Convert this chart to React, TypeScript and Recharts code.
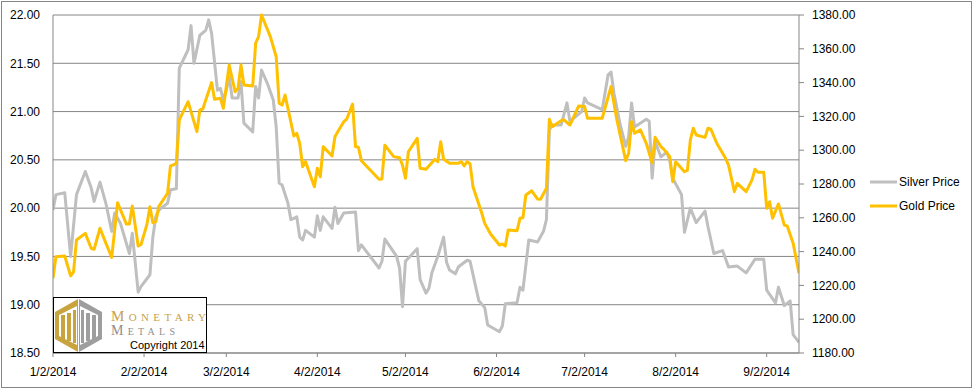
import { LineChart, Line, XAxis, YAxis, CartesianGrid } from "recharts";

// x values are day-of-year in 2014 (Jan 2 = 2)
const tickLabels = ["1/2/2014", "2/2/2014", "3/2/2014", "4/2/2014", "5/2/2014", "6/2/2014", "7/2/2014", "8/2/2014", "9/2/2014"];
const silverTicks = [18.5, 19, 19.5, 20, 20.5, 21, 21.5, 22];
const goldTicks = [1180, 1200, 1220, 1240, 1260, 1280, 1300, 1320, 1340, 1360, 1380];

const silverDays = [
  2, 3, 6, 8, 10, 13, 15, 16, 18, 20, 22, 23, 25, 28, 29, 31, 32, 35, 36, 37, 38, 41, 42, 44,
  45, 48, 49, 50, 52, 54, 55, 56, 58, 59, 60, 61, 62, 63, 65, 66, 67, 70, 71, 72, 73, 75, 77, 78,
  79, 80, 82, 83, 85, 86, 87, 88, 91, 92, 93, 94, 97, 98, 99, 101, 105, 106, 107, 113, 114, 115,
  119, 120, 121, 122, 126, 127, 129, 130, 131, 133, 135, 136, 137, 139, 140, 143, 144, 147, 149,
  150, 154, 155, 156, 160, 161, 162, 164, 167, 169, 170, 171, 172, 175, 177, 178, 182, 183, 184,
  189, 191, 192, 193, 195, 197, 198, 199, 200, 204, 205, 206, 207, 209, 211, 212, 213, 216, 217,
  219, 221, 224, 225, 227, 230, 232, 235, 238, 241, 244, 245, 248, 249, 251, 253, 254, 256,
];
const silverPrices = [
  19.98, 20.14, 20.16, 19.5, 20.14, 20.38, 20.21, 20.07, 20.27, 20.05, 19.76, 19.95, 19.84, 19.53,
  19.74, 19.13, 19.19, 19.31, 19.7, 19.91, 19.98, 20.05, 20.19, 20.2,
  21.45, 21.64, 21.89, 21.5, 21.79, 21.84, 21.95, 21.81, 21.22, 21.24, 21.12, 21.22, 21.36, 21.14,
  21.14, 21.31, 20.88, 20.79, 21.26, 21.14, 21.43, 21.29, 21.12, 20.84,
  20.26, 20.24, 20.05, 19.88, 19.91, 19.7, 19.67, 19.77, 19.7, 19.92, 19.77, 19.91, 19.79, 20.01,
  19.84, 19.95, 19.96, 19.56, 19.62, 19.38, 19.45, 19.68,
  19.5, 19.38, 18.98, 19.45, 19.58, 19.26, 19.12, 19.17, 19.33, 19.5, 19.7, 19.44, 19.36, 19.32,
  19.39, 19.46, 19.45, 19.04, 18.97,
  18.79, 18.72, 18.78, 19.01, 19.02, 19.18, 19.15, 19.67, 19.65, 19.76, 19.88, 20.81, 20.86, 20.86,
  21.09, 20.9, 21.0, 21.14, 21.09,
  21.02, 21.38, 21.41, 21.19, 20.88, 20.64, 20.74, 21.09, 20.84, 20.92, 20.9, 20.31, 20.69, 20.53,
  20.58, 20.49, 20.31, 20.14, 19.75,
  20.0, 19.85, 19.97, 19.81, 19.53, 19.56, 19.39, 19.4, 19.33, 19.47, 19.47, 19.15, 19.02, 19.18,
  18.99, 19.04, 18.69, 18.61,
];

const goldDays = [
  2, 3, 6, 8, 9, 10, 13, 15, 16, 18, 20, 22, 24, 27, 28, 29, 31, 32, 34, 35, 36, 37, 38, 41, 42,
  43, 44, 45, 48, 51, 52, 53, 56, 57, 59, 60, 62, 64, 65, 66, 67, 70, 71, 72, 73, 76, 78, 79, 80,
  81, 84, 85, 86, 87, 88, 91, 92, 93, 94, 97, 98, 99, 101, 102, 104, 105, 106, 107, 113, 114, 115,
  118, 120, 121, 122, 123, 126, 127, 129, 132, 133, 134, 135, 137, 140, 141, 142, 143, 144, 145,
  148, 149, 151, 154, 155, 156, 157, 160, 161, 162, 163, 165, 167, 168, 170, 171, 172, 175, 176,
  178, 181, 183, 184, 189, 192, 194, 197, 198, 199, 200, 202, 204, 206, 207, 209, 210, 212, 213,
  214, 217, 218, 219, 220, 221, 224, 225, 226, 228, 231, 232, 234, 235, 238, 240, 241, 242, 244,
  245, 246, 247, 249, 251, 252, 254, 256,
];
const goldPrices = [
  1224.2, 1237, 1237.4, 1225.6, 1228, 1246.9, 1250.8, 1242, 1241.4, 1253.8, 1245, 1236.6, 1268.9,
  1256.3, 1256.3, 1267, 1243.3, 1244.3, 1256.3, 1266.6, 1257.1, 1257.7, 1266.6, 1274.5, 1290.7,
  1291.3, 1292.3, 1317.9, 1328.7, 1311, 1323.8, 1324.4, 1340, 1330.1, 1330.7, 1324.8, 1350.4,
  1334.6, 1336.6, 1350.4, 1338.6, 1338, 1363.3, 1367.2, 1380, 1367.2, 1355.3, 1327.8, 1326.7,
  1332.7, 1308.4, 1310, 1304, 1290.2, 1293.2, 1278.4, 1289.3, 1284.3, 1302.1, 1296.6, 1308, 1311,
  1316.9, 1318.3, 1327.3, 1302.1, 1301.7, 1293.8, 1282.8, 1283, 1303,
  1296.2, 1295.5, 1291.2, 1283.4, 1299.1, 1307, 1289.3, 1288.7, 1294.6, 1293.2, 1305, 1294.6,
  1292.3, 1292.3, 1293.2, 1290.7, 1293.2, 1292, 1278.4,
  1262.7, 1256.7, 1250.4, 1243.9, 1244.5, 1243.3, 1252.8, 1252.4, 1259.7, 1260, 1273.5, 1276,
  1271.1, 1271, 1277.5, 1318.3, 1313.9, 1317.5, 1318,
  1314.9, 1326.2, 1325.8, 1318.9, 1318.9, 1337.6, 1317.9, 1293.8, 1298.2, 1316.9, 1310, 1312,
  1304.1, 1292.6, 1307.6, 1302.1, 1300.5, 1296.2, 1281.4,
  1293.2, 1287.3, 1288, 1306, 1313, 1309, 1307.6, 1313, 1312.4, 1304.1, 1295.2, 1291.2, 1275.5,
  1280.4, 1275.5, 1282.4, 1288.7, 1287, 1286.9,
  1265.6, 1269.5, 1259.7, 1268.2, 1255.7, 1255.2, 1245, 1227.2,
];

const monthStart = [0, 31, 59, 90, 120, 151, 181, 212, 243, 273, 304, 334];
const toDay = (label: string) => {
  const [m, d] = label.split("/").map(Number);
  return monthStart[m - 1] + d;
};
const xTicks = tickLabels.map(toDay);

const silverData = silverDays.map((day, i) => ({ day, price: silverPrices[i] }));
const goldData = goldDays.map((day, i) => ({ day, price: goldPrices[i] }));

const SILVER = "#BFBFBF";
const GOLD = "#FFC000";
const AXIS = "#868686";
const FONT = "'Liberation Sans', Arial, sans-serif";
const tickStyle = { fill: "#000", fontSize: 12, fontFamily: FONT };

function Logo() {
  return (
    <svg width={155} height={57} style={{ position: "absolute", left: 53, top: 297 }}>
      <rect x={0.5} y={0.5} width={153} height={55} fill="#fff" stroke="#000" />
      <polygon points="25,2 25,55 2,42 2,15" fill="#C9A43E" />
      <polygon points="26,2 49,15 49,42 26,55" fill="#9E9E9E" />
      <polygon points="24,9 24,48 6,39 6,18" fill="#fff" />
      <polygon points="27,9 45,18 45,39 27,48" fill="#fff" />
      <rect x={8} y={18} width={4} height={24} fill="#C9A43E" />
      <rect x={14} y={16} width={4} height={28} fill="#C9A43E" />
      <rect x={20} y={13} width={3} height={33} fill="#C9A43E" />
      <rect x={28} y={13} width={3} height={33} fill="#9E9E9E" />
      <rect x={33} y={16} width={4} height={28} fill="#9E9E9E" />
      <rect x={39} y={18} width={4} height={24} fill="#9E9E9E" />
      <text x={58} y={24} fontSize={15} fill="#C8A14A" textLength={95} lengthAdjust="spacing"
        style={{ fontFamily: "'Liberation Serif', serif", fontVariant: "small-caps" }}>
        Monetary
      </text>
      <text x={58} y={38} fontSize={14} fill="#8F8F8F" textLength={64} lengthAdjust="spacing"
        style={{ fontFamily: "'Liberation Serif', serif", fontVariant: "small-caps" }}>
        Metals
      </text>
      <text x={77} y={52} fontSize={11} fill="#000" style={{ fontFamily: FONT }}>
        Copyright 2014
      </text>
    </svg>
  );
}

function LegendBox() {
  const items = [
    { name: "Silver Price", color: SILVER, y: 182 },
    { name: "Gold Price", color: GOLD, y: 206 },
  ];
  return (
    <svg width={110} height={60} style={{ position: "absolute", left: 865, top: 165 }}>
      {items.map((it) => (
        <g key={it.name}>
          <line x1={5} x2={32} y1={it.y - 165} y2={it.y - 165} stroke={it.color} strokeWidth={3} />
          <text x={34} y={it.y - 165 + 4} fontSize={12} fill="#000" style={{ fontFamily: FONT }}>
            {it.name}
          </text>
        </g>
      ))}
    </svg>
  );
}

export default function App() {
  return (
    <div style={{ position: "absolute", left: 0, top: 0, width: 974, height: 389, background: "#fff", fontFamily: FONT }}>
      <div style={{ position: "absolute", left: 1, top: 1, width: 969, height: 385, border: `1px solid ${AXIS}` }} />
      <LineChart width={974} height={389} margin={{ top: 15, right: 115, bottom: 6, left: 8 }}>
        <CartesianGrid yAxisId="left" vertical={false} stroke={AXIS} strokeWidth={1} />
        <XAxis
          dataKey="day"
          type="number"
          domain={[2, 256]}
          ticks={xTicks}
          tickFormatter={(v: number) => tickLabels[xTicks.indexOf(v)] ?? ""}
          allowDataOverflow
          interval={0}
          height={30}
          stroke={AXIS}
          tickSize={4}
          tickMargin={10}
          tick={tickStyle}
        />
        <YAxis
          yAxisId="left"
          orientation="left"
          width={45}
          domain={[18.5, 22]}
          ticks={silverTicks}
          interval={0}
          tickFormatter={(v: number) => v.toFixed(2)}
          stroke={AXIS}
          tickLine={false}
          tickSize={5}
          tickMargin={8}
          tick={tickStyle}
        />
        <YAxis
          yAxisId="right"
          orientation="right"
          width={60}
          domain={[1180, 1380]}
          ticks={goldTicks}
          interval={0}
          tickFormatter={(v: number) => v.toFixed(2)}
          stroke={AXIS}
          tickSize={5}
          tickMargin={8}
          tick={tickStyle}
        />
        <Line
          data={silverData}
          yAxisId="left"
          dataKey="price"
          name="Silver Price"
          type="linear"
          stroke={SILVER}
          strokeWidth={3}
          strokeLinejoin="round"
          dot={false}
          isAnimationActive={false}
        />
        <Line
          data={goldData}
          yAxisId="right"
          dataKey="price"
          name="Gold Price"
          type="linear"
          stroke={GOLD}
          strokeWidth={3}
          strokeLinejoin="round"
          dot={false}
          isAnimationActive={false}
        />
      </LineChart>
      <Logo />
      <LegendBox />
    </div>
  );
}
